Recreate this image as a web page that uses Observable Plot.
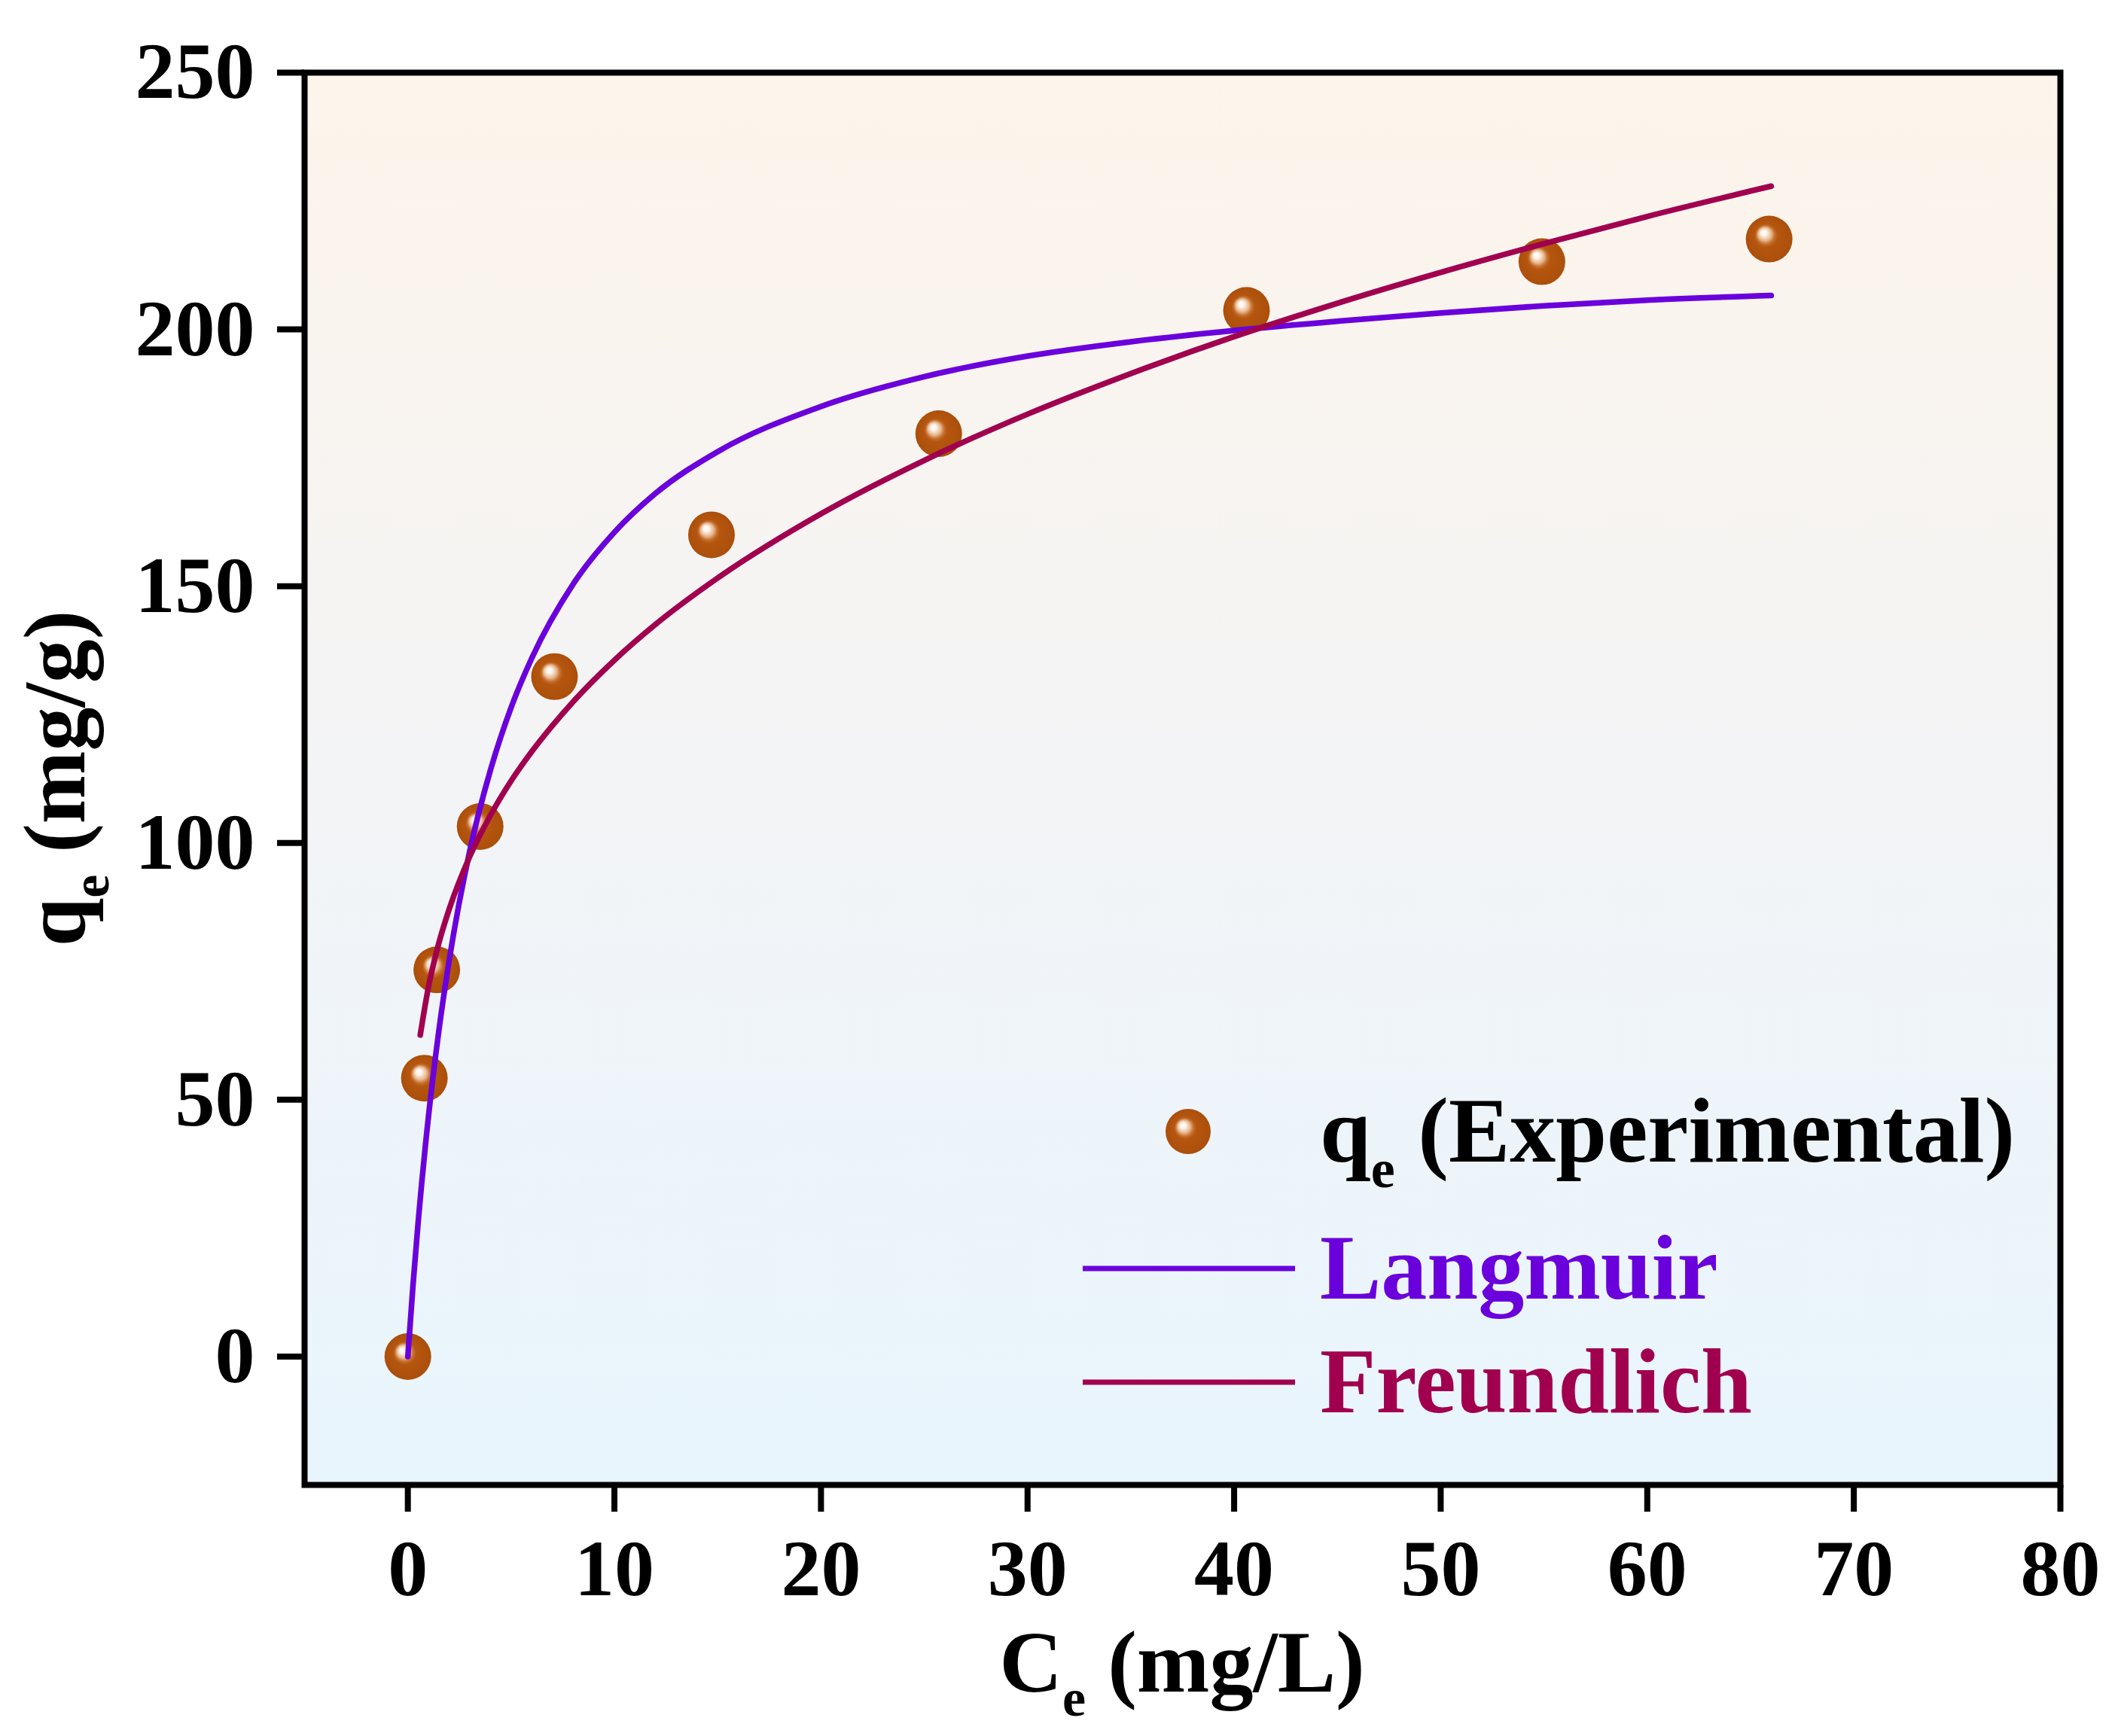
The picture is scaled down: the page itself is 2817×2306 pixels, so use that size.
<!DOCTYPE html>
<html>
<head>
<meta charset="utf-8">
<script src="https://cdn.jsdelivr.net/npm/d3@7"></script>
<script src="https://cdn.jsdelivr.net/npm/@observablehq/plot@0.6"></script>
<style>
  html, body { margin: 0; padding: 0; background: #ffffff; overflow: hidden; }
  #chart svg { display: block; }
</style>
</head>
<body>
<div id="chart"></div>
<script>
// Experimental points
const ceExp = [0, 0.8, 1.4, 3.5, 7.1, 14.7, 25.7, 40.6, 54.9, 65.9];
const qeExp = [0, 54.2, 75.3, 103.2, 132.4, 160.0, 179.7, 203.7, 213.2, 217.6];

// Langmuir fitted curve
const langC = [0, 0.25, 0.5, 1, 1.5, 2, 3, 4, 5, 6, 8, 10, 12, 15, 20, 25, 30, 35, 40, 45, 50, 55, 60, 66];
const langQ = [0, 13.9, 26.2, 46.8, 63.4, 77.1, 98.5, 114.2, 126.4, 136.0, 150.4, 160.5, 168.1, 176.2, 185.0, 190.8, 194.8, 197.6, 199.8, 201.6, 203.2, 204.6, 205.7, 206.6];

// Freundlich fitted curve
const frC = [0.6, 1, 1.5, 2, 3, 4, 5, 6, 8, 10, 12, 15, 20, 25, 30, 35, 40, 45, 50, 55, 60, 66];
const frQ = [62.6, 72.0, 80.5, 87.1, 97.4, 105.4, 112.1, 117.8, 127.5, 135.6, 142.6, 151.6, 164.1, 174.5, 183.5, 191.4, 198.6, 205.1, 211.1, 216.7, 222.0, 227.9];

const xTicks = [0, 10, 20, 30, 40, 50, 60, 70, 80];
const yTicks = [0, 50, 100, 150, 200, 250];

const seriesNames = ["Langmuir", "Freundlich"];
const seriesColors = ["#6a00dc", "#a1004f"];

const expData = ceExp.map((c, i) => ({c, q: qeExp[i]}));
const langData = langC.map((c, i) => ({c, q: langQ[i]}));
const frData = frC.map((c, i) => ({c, q: frQ[i]}));

const FONT = "'Liberation Serif', 'Times New Roman', serif";
const W = 2817, H = 2306;
const mL = 404, mR = 81, mT = 96, mB = 334;

const chart = Plot.plot({
  width: W,
  height: H,
  marginLeft: mL,
  marginRight: mR,
  marginTop: mT,
  marginBottom: mB,
  style: {background: "#ffffff", fontFamily: FONT, color: "#000"},
  x: {domain: [-5, 80]},
  y: {domain: [-25, 250]},
  marks: [
    Plot.frame({fill: "url(#bgGrad)", stroke: null}),
    Plot.dot(expData, {x: "c", y: "q", r: 31, fill: "url(#ballGrad)", stroke: null}),
    Plot.line(langData, {x: "c", y: "q", stroke: seriesColors[0], strokeWidth: 7.5, curve: "monotone-x"}),
    Plot.line(frData, {x: "c", y: "q", stroke: seriesColors[1], strokeWidth: 7.5, curve: "monotone-x"}),
    Plot.frame({stroke: "#000", strokeWidth: 8}),
    Plot.axisX({ticks: xTicks, tickSize: 36, tickPadding: 35, strokeWidth: 8, stroke: "#000",
      fontSize: 106, fontWeight: "bold", fontFamily: FONT, fill: "#000", label: null}),
    Plot.axisY({ticks: yTicks, tickSize: 36, tickPadding: 30, strokeWidth: 8, stroke: "#000",
      fontSize: 106, fontWeight: "bold", fontFamily: FONT, fill: "#000", label: null})
  ]
});

const svg = d3.select(chart);
const defs = svg.insert("defs", ":first-child");

const bg = defs.append("linearGradient").attr("id", "bgGrad")
  .attr("x1", 0).attr("y1", 0).attr("x2", 0).attr("y2", 1);
bg.append("stop").attr("offset", "0%").attr("stop-color", "#fdf4ea");
bg.append("stop").attr("offset", "50%").attr("stop-color", "#f3f4f6");
bg.append("stop").attr("offset", "100%").attr("stop-color", "#e8f5fd");

const ball = defs.append("radialGradient").attr("id", "ballGrad")
  .attr("cx", 0.5).attr("cy", 0.5).attr("r", 0.5)
  .attr("fx", 0.37).attr("fy", 0.35);
[["0%", "#ffffff"], ["12%", "#fff4ea"], ["28%", "#e6b890"], ["40%", "#c66e2c"],
 ["50%", "#b5560f"], ["100%", "#ab4f0b"]].forEach(([o, c]) =>
  ball.append("stop").attr("offset", o).attr("stop-color", c));

// Axis titles with subscripts
const px0 = mL, px1 = W - mR, py0 = mT, py1 = H - mB;
const xl = svg.append("text")
  .attr("x", (px0 + px1) / 2).attr("y", 2247)
  .attr("text-anchor", "middle")
  .attr("font-family", FONT).attr("font-weight", "bold").attr("font-size", 116).attr("fill", "#000");
xl.append("tspan").text("C");
xl.append("tspan").attr("font-size", 70).attr("dy", 32).text("e");
xl.append("tspan").attr("dy", -32).text(" (mg/L)");

const yl = svg.append("text")
  .attr("transform", `translate(112,${(py0 + py1) / 2}) rotate(-90)`)
  .attr("text-anchor", "middle")
  .attr("font-family", FONT).attr("font-weight", "bold").attr("font-size", 116).attr("fill", "#000");
yl.append("tspan").text("q");
yl.append("tspan").attr("font-size", 70).attr("dy", 32).text("e");
yl.append("tspan").attr("dy", -32).text(" (mg/g)");

// Legend
const lg = svg.append("g").attr("font-family", FONT).attr("font-weight", "bold")
  .attr("font-size", 122).attr("text-anchor", "start");
lg.append("circle").attr("cx", 1578).attr("cy", 1503).attr("r", 30).attr("fill", "url(#ballGrad)");
const lt = lg.append("text").attr("x", 1753).attr("y", 1543).attr("fill", "#000").attr("text-anchor", "start");
lt.append("tspan").text("q");
lt.append("tspan").attr("font-size", 72).attr("dy", 34).text("e");
lt.append("tspan").attr("dy", -34).text(" (Experimental)");

const legendY = [1685, 1836];
seriesNames.forEach((name, i) => {
  lg.append("line").attr("x1", 1438).attr("x2", 1720)
    .attr("y1", legendY[i]).attr("y2", legendY[i])
    .attr("stroke", seriesColors[i]).attr("stroke-width", 7);
  lg.append("text").attr("x", 1753).attr("y", legendY[i] + 40).attr("text-anchor", "start")
    .attr("fill", seriesColors[i]).text(name);
});

document.getElementById("chart").appendChild(chart);
</script>
</body>
</html>
